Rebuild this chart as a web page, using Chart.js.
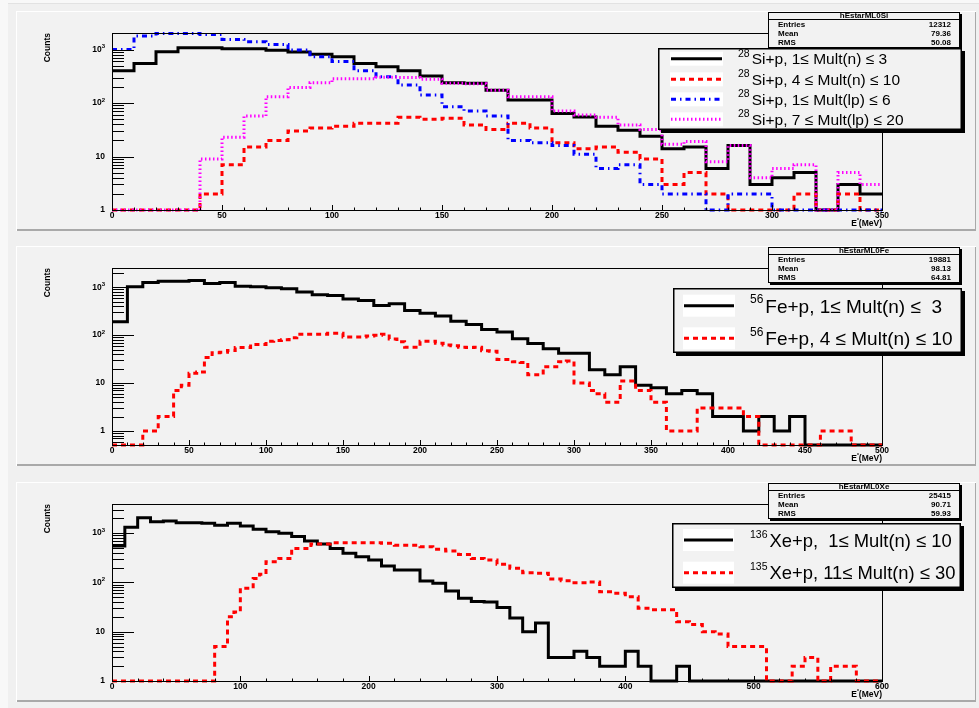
<!DOCTYPE html>
<html>
<head>
<meta charset="utf-8">
<title>hEstarML0</title>
<script src="https://cdn.jsdelivr.net/npm/chart.js@4.4.1/dist/chart.umd.min.js"></script>
<style>
  html, body { margin: 0; padding: 0; }
  body { width: 979px; height: 708px; background: #f8f8f8; position: relative; overflow: hidden; }
  .frame { position: absolute; left: 8px; top: 3px; right: 0; bottom: 0; background: #f0f0f0; border-top: 1px solid #e2e2e2; }
  .pad { position: absolute; left: 16px; width: 960px; height: 220px; background: #f2f2f2;
         box-shadow: inset 1px 1px 0 #ffffff, inset -1px -2px 0 #a9a9a9; }
  .pad canvas { position: absolute; left: 0; top: 0; }
</style>
</head>
<body>
<div class="frame"></div>
<div class="pad" style="top:11px"><canvas id="cSi" width="960" height="220"></canvas></div>
<div class="pad" style="top:246px"><canvas id="cFe" width="960" height="220"></canvas></div>
<div class="pad" style="top:482px"><canvas id="cXe" width="960" height="220"></canvas></div>
<script>
// E* spectra, counts per bin (bin width in MeV given next to each set)

// 28Si + p, 10 MeV bins from 0 to 350
const siN1to3   = [400, 550, 910, 1080, 1080, 1030, 1030, 970, 900, 820, 733, 550, 477, 400, 320, 240, 235, 174, 114, 114, 64, 55, 37, 31, 24, 14, 15, 6, 16, 3, 4, 5, 0, 3, 2];
const siN4to10  = [0, 0, 0, 0, 2, 7, 15, 20, 30, 34, 37, 42, 42, 54, 50, 52, 39, 32, 42, 34, 18, 14, 15, 12, 9, 3, 5, 2, 0, 0, 0, 2, 0, 2, 0];
const siLp1to6  = [1000, 1790, 2000, 2000, 1920, 1550, 1400, 1250, 980, 735, 600, 400, 310, 217, 141, 85, 71, 57, 20, 18, 16, 11, 6, 7, 3, 2, 2, 1, 2, 2, 0, 0, 0, 0, 0];
const siLp7to20 = [0, 0, 0, 0, 9, 23, 57, 131, 196, 240, 285, 285, 302, 300, 280, 235, 230, 174, 131, 131, 71, 60, 54, 39, 32, 17, 19, 8, 16, 4, 6, 7, 0, 5, 3];

// 56Fe + p, 10 MeV bins (1-3 n) and 5 MeV bins (4-10 n) from 0 to 500
const feN1to3  = [190, 1020, 1260, 1330, 1330, 1380, 1200, 1260, 1050, 1020, 980, 930, 800, 700, 670, 570, 530, 415, 450, 327,
                  287, 250, 195, 167, 131, 116, 84, 67, 52, 42, 42, 19, 15, 22, 9, 8, 6, 7, 6, 2, 2, 1, 2, 1, 2, 0, 0, 0, 0, 0];
const feN4to10 = [0, 0, 0, 0, 1, 1, 2, 2, 7, 9, 16, 17, 34, 43, 44, 48, 55, 55, 64, 64,
                  75, 77, 80, 88, 104, 105, 105, 105, 110, 110, 91, 91, 91, 96, 99, 104, 83, 73, 56, 56,
                  75, 75, 68, 62, 60, 56, 55, 56, 47, 46, 31, 31, 28, 27, 15, 15, 22, 22, 28, 29,
                  10, 10, 7, 6, 4, 4, 11, 11, 7, 7, 4, 4, 1, 1, 1, 1, 3, 3, 3, 3,
                  3, 3, 2, 2, 0, 0, 0, 0, 0, 0, 0, 0, 1, 1, 1, 1, 0, 0, 0, 0];

// 136Xe / 135Xe + p, 10 MeV bins (1-10 n) and 5 MeV bins (11-30 n) from 0 to 600
const xeN1to10  = [550, 1320, 2050, 1700, 1760, 1620, 1620, 1590, 1450, 1590, 1390, 1200, 1070, 1000, 850, 690, 600, 490, 390, 330,
                   285, 215, 178, 178, 107, 96, 67, 48, 41, 40, 31, 19, 10, 15, 3, 3, 4, 3, 2, 2,
                   4, 2, 0, 0, 2, 0, 0, 0, 0, 0, 0, 0, 0, 0, 0, 0, 0, 0, 0, 0];
const xeN11to30 = [0, 0, 0, 0, 0, 0, 0, 0, 0, 0, 0, 0, 0, 0, 0, 0,
                   5, 5, 20, 25, 76, 76, 120, 146, 263, 263, 307, 307, 490, 490, 490, 600,
                   600, 600, 640, 640, 640, 640, 640, 640, 640, 640, 620, 620, 570, 570, 570, 570,
                   530, 530, 470, 470, 435, 435, 370, 370, 307, 307, 285, 285, 233, 233, 193, 193,
                   157, 157, 153, 153, 117, 117, 108, 108, 98, 98, 102, 102, 65, 65, 60, 60,
                   51, 51, 30, 30, 28, 28, 28, 28, 16, 16, 14, 14, 10, 10, 9, 9,
                   5, 5, 5, 5, 5, 5, 0, 0, 0, 0, 2, 2, 3, 3, 0, 0,
                   2, 2, 2, 2, 0, 0, 0, 0];

const PAD_FILL = '#f2f2f2';
const FONT = "'Liberation Sans', Arial, Helvetica, sans-serif";

const SOLID = { color: '#000000', lw: 3, dash: [] };
const DASHED = { color: '#ff0000', lw: 3, dash: [5, 4] };
const DASHDOT = { color: '#0000ff', lw: 3, dash: [5, 4, 1.5, 4] };
const DOTTED = { color: '#ff00ff', lw: 3, dash: [1.5, 2.5] };

// histogram -> points at bin low edges, plus the last upper edge
function histSteps(counts, width, floor) {
  const pts = counts.map((c, i) => ({ x: i * width, y: Math.max(c, floor) }));
  pts.push({ x: counts.length * width, y: Math.max(counts[counts.length - 1], floor) });
  return pts;
}

function drawSup(ctx, x, y, sup, text, font, supFont, size) {
  ctx.textAlign = 'left';
  ctx.textBaseline = 'alphabetic';
  ctx.font = supFont;
  ctx.fillText(sup, x, y - 0.12 * size);
  const w = ctx.measureText(sup).width;
  ctx.font = font;
  ctx.fillText(text, x + w + 2, y + 0.36 * size);
}

function rootPad(p) {
  return {
    id: 'rootPad',
    afterDatasetsDraw(chart) {
      const ctx = chart.ctx, a = chart.chartArea;
      const xs = chart.scales.x, ys = chart.scales.y;
      ctx.save();
      ctx.strokeStyle = '#000';
      ctx.fillStyle = '#000';
      ctx.lineWidth = 1;
      ctx.setLineDash([]);
      ctx.strokeRect(Math.round(a.left) + 0.5, Math.round(a.top) + 0.5,
                     Math.round(a.right - a.left), Math.round(a.bottom - a.top));

      // ticks, drawn inside the frame
      ctx.beginPath();
      for (let v = 0; v <= p.xMax; v += p.xMinor) {
        const px = Math.round(xs.getPixelForValue(v)) + 0.5;
        ctx.moveTo(px, a.bottom);
        ctx.lineTo(px, a.bottom - (v % p.xMajor === 0 ? 5 : 2.5));
      }
      const d0 = Math.floor(Math.log10(p.yMin)), d1 = Math.ceil(Math.log10(p.yMax));
      for (let d = d0; d <= d1; d++) {
        for (let k = 1; k <= 9; k++) {
          const v = k * Math.pow(10, d);
          if (v < p.yMin * 0.999 || v > p.yMax) continue;
          const py = Math.round(ys.getPixelForValue(v)) + 0.5;
          ctx.moveTo(a.left, py);
          ctx.lineTo(a.left + (k === 1 ? 22 : 12), py);
        }
      }
      ctx.stroke();

      // tick labels
      ctx.font = 'bold 8.5px ' + FONT;
      ctx.textAlign = 'center';
      ctx.textBaseline = 'middle';
      for (let v = 0; v <= p.xMax; v += p.xMajor) {
        ctx.fillText(String(v), xs.getPixelForValue(v), a.bottom + 6);
      }
      for (let d = Math.max(d0, 0); d <= d1; d++) {
        const v = Math.pow(10, d);
        if (v < p.yMin || v > p.yMax) continue;
        const py = ys.getPixelForValue(v);
        let right = a.left - 7;
        ctx.textAlign = 'right';
        if (d >= 2) {
          ctx.font = 'bold 6px ' + FONT;
          ctx.fillText(String(d), right, py - 3);
          right -= ctx.measureText(String(d)).width;
        }
        ctx.font = 'bold 8.5px ' + FONT;
        ctx.fillText(d === 0 ? '1' : '10', right, py);
      }

      // axis titles
      ctx.save();
      ctx.translate(32, a.top);
      ctx.rotate(-Math.PI / 2);
      ctx.textAlign = 'right';
      ctx.textBaseline = 'middle';
      ctx.fillText('Counts', 0, 0);
      ctx.restore();

      ctx.textAlign = 'right';
      ctx.textBaseline = 'middle';
      ctx.font = 'bold 8.5px ' + FONT;
      const ty = a.bottom + 14;
      ctx.fillText('(MeV)', a.right, ty);
      let tx = a.right - ctx.measureText('(MeV)').width;
      ctx.font = 'bold 5px ' + FONT;
      ctx.fillText('*', tx, ty - 3);
      tx -= ctx.measureText('*').width;
      ctx.font = 'bold 8.5px ' + FONT;
      ctx.fillText('E', tx, ty);
      ctx.restore();
    },
    afterDraw(chart) {
      const ctx = chart.ctx;
      ctx.save();
      ctx.setLineDash([]);

      // statistics box
      const s = p.stats;
      ctx.fillStyle = '#000';
      ctx.fillRect(s.x + 2, s.y + 2, s.w, s.h);
      ctx.fillStyle = PAD_FILL;
      ctx.fillRect(s.x, s.y, s.w, s.h);
      ctx.strokeStyle = '#000';
      ctx.lineWidth = 1;
      ctx.strokeRect(s.x + 0.5, s.y + 0.5, s.w - 1, s.h - 1);
      ctx.beginPath();
      ctx.moveTo(s.x, s.y + 7.5);
      ctx.lineTo(s.x + s.w, s.y + 7.5);
      ctx.stroke();
      ctx.fillStyle = '#000';
      ctx.font = 'bold 8px ' + FONT;
      ctx.textBaseline = 'middle';
      ctx.textAlign = 'center';
      ctx.fillText(s.name, s.x + s.w / 2, s.y + 4.2);
      const rows = [['Entries', s.entries], ['Mean', s.mean], ['RMS', s.rms]];
      rows.forEach((r, i) => {
        const ry = s.y + 12.3 + i * 9;
        ctx.textAlign = 'left';
        ctx.fillText(r[0], s.x + 10, ry);
        ctx.textAlign = 'right';
        ctx.fillText(r[1], s.x + s.w - 9, ry);
      });

      // legend
      const L = p.legend;
      ctx.fillStyle = '#000';
      ctx.fillRect(L.x + 3, L.y + 3, L.w, L.h);
      ctx.fillStyle = PAD_FILL;
      ctx.fillRect(L.x, L.y, L.w, L.h);
      ctx.lineWidth = 1.5;
      ctx.strokeRect(L.x + 0.75, L.y + 0.75, L.w - 1.5, L.h - 1.5);
      p.series.forEach((sr, i) => {
        const ry = L.rows[i];
        ctx.fillStyle = '#ffffff';
        ctx.fillRect(L.sx0, ry - L.sh / 2, L.sx1 - L.sx0, L.sh);
        ctx.strokeStyle = sr.style.color;
        ctx.lineWidth = sr.style.lw;
        ctx.setLineDash(sr.style.dash);
        ctx.beginPath();
        ctx.moveTo(L.sx0 + 1, ry);
        ctx.lineTo(L.sx1 - 1, ry);
        ctx.stroke();
        ctx.setLineDash([]);
        ctx.fillStyle = '#000';
        drawSup(ctx, L.tx, ry, sr.sup, sr.label,
                L.size + 'px ' + FONT, L.supSize + 'px ' + FONT, L.size);
      });
      ctx.restore();
    }
  };
}

function makePanel(id, p) {
  return new Chart(document.getElementById(id), {
    type: 'line',
    data: {
      datasets: p.series.map((sr, i) => ({
        data: histSteps(sr.counts, sr.width, p.yMin),
        borderColor: sr.style.color,
        borderWidth: sr.style.lw,
        borderDash: sr.style.dash,
        stepped: true,
        pointRadius: 0,
        fill: false,
        clip: 4,
        order: p.series.length - i
      }))
    },
    options: {
      responsive: false,
      animation: false,
      events: [],
      layout: { padding: { left: 96, right: 94, top: 22, bottom: 21 } },
      plugins: { legend: { display: false }, tooltip: { enabled: false } },
      scales: {
        x: { type: 'linear', min: 0, max: p.xMax, display: false },
        y: { type: 'logarithmic', min: p.yMin, max: p.yMax, display: false }
      }
    },
    plugins: [rootPad(p)]
  });
}

makePanel('cSi', {
  xMax: 350, xMajor: 50, xMinor: 10, yMin: 1, yMax: 2040,
  series: [
    { counts: siN1to3, width: 10, style: SOLID, sup: '28', label: 'Si+p, 1\u2264 Mult(n) \u2264 3' },
    { counts: siN4to10, width: 10, style: DASHED, sup: '28', label: 'Si+p, 4 \u2264 Mult(n) \u2264 10' },
    { counts: siLp1to6, width: 10, style: DASHDOT, sup: '28', label: 'Si+p, 1\u2264 Mult(lp) \u2264 6' },
    { counts: siLp7to20, width: 10, style: DOTTED, sup: '28', label: 'Si+p, 7 \u2264 Mult(lp) \u2264 20' }
  ],
  stats: { x: 752, y: 1, w: 192, h: 36, name: 'hEstarML0Si', entries: '12312', mean: '79.36', rms: '50.08' },
  legend: { x: 642, y: 37, w: 304, h: 82, rows: [47.7, 68.3, 88.3, 108.3],
            sx0: 654, sx1: 707, sh: 14, tx: 722, size: 15.5, supSize: 10.5 }
});

makePanel('cFe', {
  xMax: 500, xMajor: 50, xMinor: 10, yMin: 0.51, yMax: 2520,
  series: [
    { counts: feN1to3, width: 10, style: SOLID, sup: '56', label: 'Fe+p, 1\u2264 Mult(n) \u2264  3' },
    { counts: feN4to10, width: 5, style: DASHED, sup: '56', label: 'Fe+p, 4 \u2264 Mult(n) \u2264 10' }
  ],
  stats: { x: 752, y: 1, w: 192, h: 36, name: 'hEstarML0Fe', entries: '19881', mean: '98.13', rms: '64.81' },
  legend: { x: 657, y: 42, w: 289, h: 65, rows: [59.7, 92.3],
            sx0: 667, sx1: 719, sh: 22, tx: 734, size: 19, supSize: 12 }
});

makePanel('cXe', {
  xMax: 600, xMajor: 100, xMinor: 20, yMin: 1, yMax: 3900,
  series: [
    { counts: xeN1to10, width: 10, style: SOLID, sup: '136', label: 'Xe+p,  1\u2264 Mult(n) \u2264 10' },
    { counts: xeN11to30, width: 5, style: DASHED, sup: '135', label: 'Xe+p, 11\u2264 Mult(n) \u2264 30' }
  ],
  stats: { x: 752, y: 1, w: 192, h: 36, name: 'hEstarML0Xe', entries: '25415', mean: '90.71', rms: '59.93' },
  legend: { x: 656, y: 41, w: 289, h: 65, rows: [58, 90.7],
            sx0: 667, sx1: 718, sh: 22, tx: 734, size: 18.4, supSize: 10.5 }
});
</script>
</body>
</html>
